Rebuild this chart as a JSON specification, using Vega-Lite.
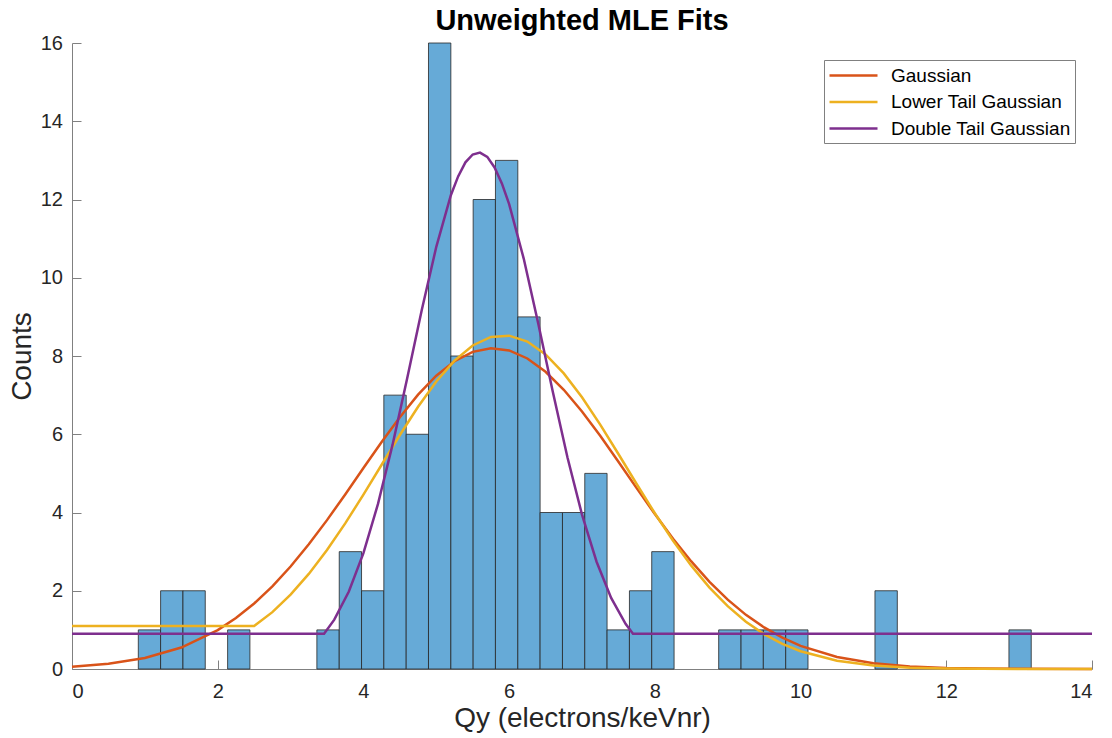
{
  "$schema": "https://vega.github.io/schema/vega-lite/v6.json",
  "width": 1020,
  "height": 626,
  "autosize": {"type": "none"},
  "padding": {"left": 72, "top": 43, "right": 20, "bottom": 69},
  "background": "white",
  "title": {"text": "Unweighted MLE Fits", "fontSize": 29, "fontWeight": "bold", "font": "Liberation Sans", "color": "#000000", "anchor": "middle", "offset": -26, "baseline": "alphabetic"},
  "config": {
    "view": {"stroke": null},
    "font": "Liberation Sans",
    "axis": {"grid": false, "domainColor": "#808080", "tickColor": "#808080", "labelColor": "#262626", "titleColor": "#262626", "labelFontSize": 20, "titleFontSize": 28, "titleFontWeight": "normal", "tickSize": -9}
  },
  "datasets": {
    "bars": [
      {"lo": 0.910, "hi": 1.216, "count": 1},
      {"lo": 1.216, "hi": 1.523, "count": 2},
      {"lo": 1.523, "hi": 1.829, "count": 2},
      {"lo": 2.136, "hi": 2.442, "count": 1},
      {"lo": 3.361, "hi": 3.668, "count": 1},
      {"lo": 3.668, "hi": 3.974, "count": 3},
      {"lo": 3.974, "hi": 4.280, "count": 2},
      {"lo": 4.280, "hi": 4.587, "count": 7},
      {"lo": 4.587, "hi": 4.893, "count": 6},
      {"lo": 4.893, "hi": 5.200, "count": 16},
      {"lo": 5.200, "hi": 5.506, "count": 8},
      {"lo": 5.506, "hi": 5.812, "count": 12},
      {"lo": 5.812, "hi": 6.119, "count": 13},
      {"lo": 6.119, "hi": 6.425, "count": 9},
      {"lo": 6.425, "hi": 6.732, "count": 4},
      {"lo": 6.732, "hi": 7.038, "count": 4},
      {"lo": 7.038, "hi": 7.344, "count": 5},
      {"lo": 7.344, "hi": 7.651, "count": 1},
      {"lo": 7.651, "hi": 7.957, "count": 2},
      {"lo": 7.957, "hi": 8.264, "count": 3},
      {"lo": 8.876, "hi": 9.183, "count": 1},
      {"lo": 9.183, "hi": 9.489, "count": 1},
      {"lo": 9.489, "hi": 9.796, "count": 1},
      {"lo": 9.796, "hi": 10.102, "count": 1},
      {"lo": 11.021, "hi": 11.328, "count": 2},
      {"lo": 12.860, "hi": 13.166, "count": 1}
    ],
    "fits": [
      {"model": "Gaussian", "qy": 0, "v": 0.059},
      {"model": "Gaussian", "qy": 0.5, "v": 0.134},
      {"model": "Gaussian", "qy": 1, "v": 0.281},
      {"model": "Gaussian", "qy": 1.5, "v": 0.548},
      {"model": "Gaussian", "qy": 2, "v": 0.993},
      {"model": "Gaussian", "qy": 2.25, "v": 1.301},
      {"model": "Gaussian", "qy": 2.5, "v": 1.674},
      {"model": "Gaussian", "qy": 2.75, "v": 2.113},
      {"model": "Gaussian", "qy": 3, "v": 2.619},
      {"model": "Gaussian", "qy": 3.25, "v": 3.186},
      {"model": "Gaussian", "qy": 3.5, "v": 3.805},
      {"model": "Gaussian", "qy": 3.75, "v": 4.462},
      {"model": "Gaussian", "qy": 4, "v": 5.136},
      {"model": "Gaussian", "qy": 4.25, "v": 5.803},
      {"model": "Gaussian", "qy": 4.5, "v": 6.437},
      {"model": "Gaussian", "qy": 4.75, "v": 7.011},
      {"model": "Gaussian", "qy": 5, "v": 7.495},
      {"model": "Gaussian", "qy": 5.25, "v": 7.866},
      {"model": "Gaussian", "qy": 5.5, "v": 8.106},
      {"model": "Gaussian", "qy": 5.75, "v": 8.2},
      {"model": "Gaussian", "qy": 6, "v": 8.142},
      {"model": "Gaussian", "qy": 6.25, "v": 7.937},
      {"model": "Gaussian", "qy": 6.5, "v": 7.596},
      {"model": "Gaussian", "qy": 6.75, "v": 7.136},
      {"model": "Gaussian", "qy": 7, "v": 6.581},
      {"model": "Gaussian", "qy": 7.25, "v": 5.959},
      {"model": "Gaussian", "qy": 7.5, "v": 5.297},
      {"model": "Gaussian", "qy": 7.75, "v": 4.622},
      {"model": "Gaussian", "qy": 8, "v": 3.960},
      {"model": "Gaussian", "qy": 8.25, "v": 3.330},
      {"model": "Gaussian", "qy": 8.5, "v": 2.749},
      {"model": "Gaussian", "qy": 8.75, "v": 2.228},
      {"model": "Gaussian", "qy": 9, "v": 1.773},
      {"model": "Gaussian", "qy": 9.25, "v": 1.384},
      {"model": "Gaussian", "qy": 9.5, "v": 1.062},
      {"model": "Gaussian", "qy": 9.75, "v": 0.800},
      {"model": "Gaussian", "qy": 10, "v": 0.590},
      {"model": "Gaussian", "qy": 10.5, "v": 0.305},
      {"model": "Gaussian", "qy": 11, "v": 0.146},
      {"model": "Gaussian", "qy": 11.5, "v": 0.065},
      {"model": "Gaussian", "qy": 12, "v": 0.027},
      {"model": "Gaussian", "qy": 12.5, "v": 0.011},
      {"model": "Gaussian", "qy": 13, "v": 0.004},
      {"model": "Gaussian", "qy": 14, "v": 0.0},
      {"model": "Lower Tail Gaussian", "qy": 0, "v": 1.1},
      {"model": "Lower Tail Gaussian", "qy": 2.5, "v": 1.1},
      {"model": "Lower Tail Gaussian", "qy": 2.75, "v": 1.453},
      {"model": "Lower Tail Gaussian", "qy": 3, "v": 1.900},
      {"model": "Lower Tail Gaussian", "qy": 3.25, "v": 2.430},
      {"model": "Lower Tail Gaussian", "qy": 3.5, "v": 3.041},
      {"model": "Lower Tail Gaussian", "qy": 3.75, "v": 3.722},
      {"model": "Lower Tail Gaussian", "qy": 4, "v": 4.457},
      {"model": "Lower Tail Gaussian", "qy": 4.25, "v": 5.220},
      {"model": "Lower Tail Gaussian", "qy": 4.5, "v": 5.981},
      {"model": "Lower Tail Gaussian", "qy": 4.75, "v": 6.703},
      {"model": "Lower Tail Gaussian", "qy": 5, "v": 7.349},
      {"model": "Lower Tail Gaussian", "qy": 5.25, "v": 7.882},
      {"model": "Lower Tail Gaussian", "qy": 5.5, "v": 8.269},
      {"model": "Lower Tail Gaussian", "qy": 5.75, "v": 8.487},
      {"model": "Lower Tail Gaussian", "qy": 6, "v": 8.52},
      {"model": "Lower Tail Gaussian", "qy": 6.25, "v": 8.368},
      {"model": "Lower Tail Gaussian", "qy": 6.5, "v": 8.040},
      {"model": "Lower Tail Gaussian", "qy": 6.75, "v": 7.555},
      {"model": "Lower Tail Gaussian", "qy": 7, "v": 6.946},
      {"model": "Lower Tail Gaussian", "qy": 7.25, "v": 6.246},
      {"model": "Lower Tail Gaussian", "qy": 7.5, "v": 5.496},
      {"model": "Lower Tail Gaussian", "qy": 7.75, "v": 4.729},
      {"model": "Lower Tail Gaussian", "qy": 8, "v": 3.98},
      {"model": "Lower Tail Gaussian", "qy": 8.25, "v": 3.279},
      {"model": "Lower Tail Gaussian", "qy": 8.5, "v": 2.642},
      {"model": "Lower Tail Gaussian", "qy": 8.75, "v": 2.081},
      {"model": "Lower Tail Gaussian", "qy": 9, "v": 1.605},
      {"model": "Lower Tail Gaussian", "qy": 9.25, "v": 1.210},
      {"model": "Lower Tail Gaussian", "qy": 9.5, "v": 0.892},
      {"model": "Lower Tail Gaussian", "qy": 9.75, "v": 0.644},
      {"model": "Lower Tail Gaussian", "qy": 10, "v": 0.455},
      {"model": "Lower Tail Gaussian", "qy": 10.5, "v": 0.212},
      {"model": "Lower Tail Gaussian", "qy": 11, "v": 0.091},
      {"model": "Lower Tail Gaussian", "qy": 11.5, "v": 0.035},
      {"model": "Lower Tail Gaussian", "qy": 12, "v": 0.013},
      {"model": "Lower Tail Gaussian", "qy": 13, "v": 0.001},
      {"model": "Lower Tail Gaussian", "qy": 14, "v": 0.0},
      {"model": "Double Tail Gaussian", "qy": 0, "v": 0.9},
      {"model": "Double Tail Gaussian", "qy": 3.46, "v": 0.9},
      {"model": "Double Tail Gaussian", "qy": 3.6, "v": 1.262},
      {"model": "Double Tail Gaussian", "qy": 3.8, "v": 1.980},
      {"model": "Double Tail Gaussian", "qy": 4.0, "v": 2.961},
      {"model": "Double Tail Gaussian", "qy": 4.2, "v": 4.220},
      {"model": "Double Tail Gaussian", "qy": 4.4, "v": 5.734},
      {"model": "Double Tail Gaussian", "qy": 4.6, "v": 7.426},
      {"model": "Double Tail Gaussian", "qy": 4.8, "v": 9.170},
      {"model": "Double Tail Gaussian", "qy": 5.0, "v": 10.79},
      {"model": "Double Tail Gaussian", "qy": 5.2, "v": 12.11},
      {"model": "Double Tail Gaussian", "qy": 5.3, "v": 12.59},
      {"model": "Double Tail Gaussian", "qy": 5.4, "v": 12.95},
      {"model": "Double Tail Gaussian", "qy": 5.5, "v": 13.15},
      {"model": "Double Tail Gaussian", "qy": 5.6, "v": 13.2},
      {"model": "Double Tail Gaussian", "qy": 5.7, "v": 13.09},
      {"model": "Double Tail Gaussian", "qy": 5.8, "v": 12.82},
      {"model": "Double Tail Gaussian", "qy": 5.9, "v": 12.41},
      {"model": "Double Tail Gaussian", "qy": 6.0, "v": 11.88},
      {"model": "Double Tail Gaussian", "qy": 6.2, "v": 10.49},
      {"model": "Double Tail Gaussian", "qy": 6.4, "v": 8.826},
      {"model": "Double Tail Gaussian", "qy": 6.6, "v": 7.079},
      {"model": "Double Tail Gaussian", "qy": 6.8, "v": 5.413},
      {"model": "Double Tail Gaussian", "qy": 7.0, "v": 3.947},
      {"model": "Double Tail Gaussian", "qy": 7.2, "v": 2.742},
      {"model": "Double Tail Gaussian", "qy": 7.4, "v": 1.816},
      {"model": "Double Tail Gaussian", "qy": 7.6, "v": 1.147},
      {"model": "Double Tail Gaussian", "qy": 7.7, "v": 0.9},
      {"model": "Double Tail Gaussian", "qy": 14, "v": 0.9}
    ]
  },
  "layer": [
    {
      "data": {"name": "bars"},
      "mark": {"type": "rect", "fill": "#66aad7", "stroke": "#262626", "strokeWidth": 0.8},
      "encoding": {
        "x": {"field": "lo", "type": "quantitative", "scale": {"domain": [0, 14], "nice": false, "zero": false},
              "axis": {"values": [0, 2, 4, 6, 8, 10, 12, 14], "format": "d", "title": "Qy (electrons/keVnr)", "labelPadding": 21.5, "titlePadding": 3}},
        "x2": {"field": "hi"},
        "y": {"field": "count", "type": "quantitative", "scale": {"domain": [0, 16], "nice": false},
              "axis": {"values": [0, 2, 4, 6, 8, 10, 12, 14, 16], "format": "d", "title": "Counts", "labelPadding": 18.5, "titlePadding": 4}},
        "y2": {"datum": 0}
      }
    },
    {
      "data": {"name": "fits"},
      "mark": {"type": "line", "strokeWidth": 2.5, "interpolate": "linear"},
      "encoding": {
        "x": {"field": "qy", "type": "quantitative"},
        "y": {"field": "v", "type": "quantitative"},
        "order": {"field": "qy", "type": "quantitative"},
        "color": {"field": "model", "type": "nominal",
                  "scale": {"domain": ["Gaussian", "Lower Tail Gaussian", "Double Tail Gaussian"], "range": ["#D95319", "#EDB120", "#7E2F8E"]},
                  "legend": {"orient": "top-right", "offset": 17, "title": null, "labelFontSize": 19, "labelColor": "#000000", "labelLimit": 400, "symbolType": "M-2.4,0H2.4", "symbolSize": 400, "symbolStrokeWidth": 2.5, "symbolOffset": 14, "strokeColor": "#808080", "fillColor": "white", "padding": 4, "labelOffset": 26, "rowPadding": 4.5}}
      }
    }
  ]
}
